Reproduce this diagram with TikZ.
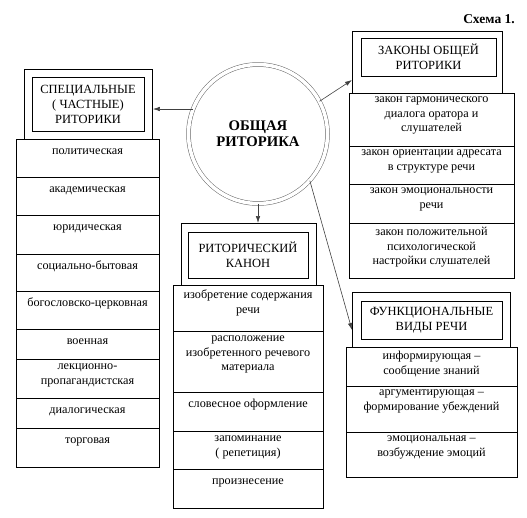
\documentclass[tikz,border=0pt]{standalone}
\usepackage{fontspec}
\setmainfont{Liberation Serif}
\usetikzlibrary{arrows.meta}

\tikzset{
  frame/.style={draw, line width=0.9pt, anchor=north west, inner sep=0pt},
  title/.style={draw, line width=0.9pt, align=center, inner sep=0pt, font=\fontsize{12.5}{15}\selectfont},
  cell/.style={draw, line width=0.9pt},
  celltext/.style={anchor=north, align=center, inner sep=0pt, font=\fontsize{12.2}{14.5}\selectfont, execute at begin node=\strut},
  link/.style={draw=black!75, line width=0.6pt, -{Latex[length=7pt,width=4.5pt]}},
}

\begin{document}
\begin{tikzpicture}[x=1pt,y=-1pt]
  \useasboundingbox (0,0) rectangle (527,517);
  \node[font=\fontsize{13.5}{15}\selectfont\bfseries] (scheme) at (489,19) {Схема 1.};
  % centre
  \node[circle, draw=black!60, double, double distance=3.5pt, line width=0.5pt, minimum size=139pt,
        align=center, font=\fontsize{14.7}{16}\selectfont\bfseries] (circ) at (258,134) {ОБЩАЯ\\РИТОРИКА};
  % special rhetorics
  \node[frame, minimum width=128pt, minimum height=70pt] (specframe) at (24,69) {};
  \node[title, minimum width=112pt, minimum height=54pt] (spectitle) at (88,104) {СПЕЦИАЛЬНЫЕ\\( ЧАСТНЫЕ)\\РИТОРИКИ};
  \foreach \ya/\yb/\txt [count=\i] in {139/177/политическая, 177/215/академическая, 215/254/юридическая,
      254/291/социально-бытовая, 291/329/богословско-церковная, 329/359/военная,
      359/398/{лекционно-\\пропагандистская}, 398/428/диалогическая, 428/467/торговая}{
    \draw[cell] (16,\ya) rectangle (159,\yb);
    \node[celltext] (spec\i) at (87.5,\ya+5) {\txt};
  }
  % laws
  \node[frame, minimum width=150pt, minimum height=62pt] (lawsframe) at (352,31) {};
  \node[title, minimum width=135pt, minimum height=38pt] (lawstitle) at (428.5,57) {ЗАКОНЫ ОБЩЕЙ\\РИТОРИКИ};
  \foreach \ya/\yb/\txt [count=\i] in {93/146/{закон гармонического\\диалога оратора и\\слушателей},
      146/184/{закон ориентации адресата\\в структуре речи}, 184/223/{закон эмоциональности\\речи},
      223/278/{закон положительной\\психологической\\настройки слушателей}}{
    \draw[cell] (349,\ya) rectangle (514,\yb);
    \node[celltext] (laws\i) at (431.5,\ya+4) {\txt};
  }
  % canon
  \node[frame, minimum width=135pt, minimum height=62pt] (canonframe) at (181,223) {};
  \node[title, minimum width=120pt, minimum height=46pt] (canontitle) at (248,255) {РИТОРИЧЕСКИЙ\\КАНОН};
  \foreach \ya/\yb/\txt [count=\i] in {285/331/{изобретение содержания\\речи},
      331/392/{расположение\\изобретенного речевого\\материала}, 392/431/словесное оформление,
      431/469/{запоминание\\( репетиция)}, 469/508/произнесение}{
    \draw[cell] (173,\ya) rectangle (323,\yb);
    \node[celltext] (canon\i) at (248,\ya+5) {\txt};
  }
  % functional kinds
  \node[frame, minimum width=158pt, minimum height=55pt] (funcframe) at (352,292) {};
  \node[title, minimum width=141pt, minimum height=38pt] (functitle) at (431.5,320) {ФУНКЦИОНАЛЬНЫЕ\\ВИДЫ РЕЧИ};
  \foreach \ya/\yb/\txt [count=\i] in {347/386/{информирующая –\\сообщение знаний},
      386/432/{аргументирующая –\\формирование убеждений}, 432/477/{эмоциональная –\\возбуждение эмоций}}{
    \draw[cell] (346,\ya) rectangle (517,\yb);
    \node[celltext] (func\i) at (431.5,\ya+4) {\txt};
  }
  % arrows
  \draw[link] (circ.159) -- (specframe.east |- circ.159);
  \draw[link] (circ.28) -- (lawsframe.west |- 0,80);
  \draw[link] (circ.south) -- (circ.south |- canonframe.north);
  \draw[link] (circ.-42) -- (funcframe.west |- 0,330);
\end{tikzpicture}
\end{document}
